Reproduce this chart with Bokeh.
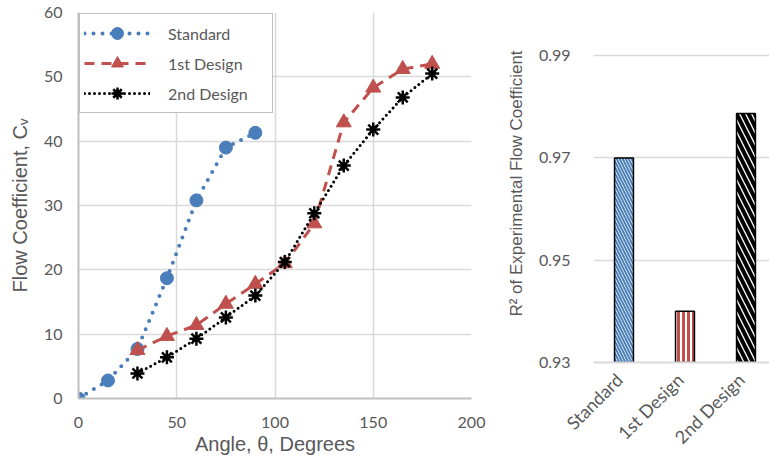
import math
from bokeh.plotting import figure
from bokeh.layouts import row
from bokeh.models import FixedTicker
from bokeh.embed import file_html
from bokeh.resources import INLINE

# ---------------- data ----------------
angle_std = [0, 15, 30, 45, 60, 75, 90]
cv_std = [0.0, 2.8, 7.7, 18.7, 30.8, 39.0, 41.3]

angle_design = [30, 45, 60, 75, 90, 105, 120, 135, 150, 165, 180]
cv_1st = [7.5, 9.7, 11.4, 14.7, 17.8, 21.0, 27.2, 42.9, 48.3, 51.2, 52.0]
cv_2nd = [3.9, 6.4, 9.3, 12.6, 16.0, 21.2, 28.8, 36.2, 41.8, 46.8, 50.5]

designs = ["Standard", "1st Design", "2nd Design"]
r2 = [0.970, 0.940, 0.9787]

x_ticks = [0, 50, 100, 150, 200]
y_ticks = [0, 10, 20, 30, 40, 50, 60]
r2_ticks = [0.93, 0.95, 0.97, 0.99]

# ---------------- styles ----------------
BLUE = "#4A7EBB"
RED = "#C0504D"
TXT = "#595959"
GRID = "#D9D9D9"
AXIS = "#BFBFBF"
TICK_FONT = "Lato"
TITLE_FONT = "Liberation Sans"

# ---------------- left chart ----------------
p = figure(width=490, height=458, x_range=(0, 200), y_range=(0, 60),
           output_backend="svg", toolbar_location=None,
           min_border_left=78, min_border_right=19,
           min_border_top=12, min_border_bottom=60)
p.frame_align = False
p.outline_line_color = None
p.background_fill_color = "white"

p.line(angle_std, cv_std, line_color=BLUE, line_width=4, line_dash="0 9",
       line_cap="round", legend_label="Standard")
p.scatter(angle_std, cv_std, marker="circle", size=13, fill_color=BLUE,
          line_color=BLUE, legend_label="Standard")

p.line(angle_design, cv_1st, line_color=RED, line_width=3, line_dash="10 7",
       legend_label="1st Design")
p.scatter(angle_design, cv_1st, marker="triangle", size=15, fill_color=RED,
          line_color=RED, legend_label="1st Design")

p.line(angle_design, cv_2nd, line_color="black", line_width=3, line_dash="0 5",
       line_cap="round", legend_label="2nd Design")
p.scatter(angle_design, cv_2nd, marker="asterisk", size=14, line_color="black",
          line_width=2.5, legend_label="2nd Design")

p.xaxis.ticker = FixedTicker(ticks=x_ticks)
p.yaxis.ticker = FixedTicker(ticks=y_ticks)
for ax in (p.xaxis[0], p.yaxis[0]):
    ax.axis_line_color = AXIS
    ax.axis_line_width = 2
    ax.major_tick_line_color = None
    ax.minor_tick_line_color = None
    ax.major_label_text_font = TICK_FONT
    ax.major_label_text_font_size = "16px"
    ax.major_label_text_color = TXT
    ax.axis_label_text_font = TITLE_FONT
    ax.axis_label_text_font_size = "20px"
    ax.axis_label_text_font_style = "normal"
    ax.axis_label_text_color = TXT

p.xaxis.axis_label = "Angle, θ, Degrees"
p.xaxis.major_label_standoff = 12
p.xaxis.axis_label_standoff = 2
p.yaxis.axis_label = "Flow Coefficient, Cᵥ"
p.yaxis.major_label_standoff = 10
p.yaxis.axis_label_standoff = 10

p.xgrid.grid_line_color = GRID
p.ygrid.grid_line_color = GRID
p.xgrid.grid_line_width = 1.5
p.ygrid.grid_line_width = 1.5

lg = p.legend[0]
lg.location = "top_left"
lg.margin = 1
lg.padding = 4
lg.spacing = 0
lg.glyph_width = 66
lg.glyph_height = 30
lg.label_height = 18
lg.label_standoff = 18
lg.label_width = 100
lg.label_text_font = TICK_FONT
lg.label_text_font_size = "16px"
lg.label_text_color = TXT
lg.border_line_color = "#808080"
lg.border_line_width = 1.5
lg.background_fill_color = "white"
lg.background_fill_alpha = 1.0

# ---------------- right chart ----------------
cat_pos = [i + 0.5 for i in range(len(designs))]
label_shift = 0.08  # rotated labels end under the bar centres
label_pos = [c - label_shift for c in cat_pos]
q = figure(width=279, height=458, x_range=(0, 176 / 61), y_range=(0.93, 1.0),
           output_backend="svg", toolbar_location=None,
           min_border_left=103, min_border_right=0,
           min_border_top=4, min_border_bottom=94)
q.frame_align = False
q.outline_line_color = None

hatch_colors = [BLUE, RED, "black"]
hatch_patterns = ["\\", "|", "\\"]
hatch_scales = [6, 5, 12]
hatch_weights = [2, 3, 4]
for i in range(len(designs)):
    q.vbar(x=[cat_pos[i]], top=[r2[i]], bottom=0.93, width=0.31,
           fill_color="white", line_color="black", line_width=1.5,
           hatch_pattern=hatch_patterns[i], hatch_color=hatch_colors[i],
           hatch_scale=hatch_scales[i], hatch_weight=hatch_weights[i])

q.xaxis.ticker = FixedTicker(ticks=label_pos)
q.xaxis.major_label_overrides = {label_pos[i]: designs[i] for i in range(len(designs))}
q.xaxis.major_label_orientation = math.pi / 4
q.yaxis.ticker = FixedTicker(ticks=r2_ticks)
q.yaxis.major_label_overrides = {t: f"{t:.2f}" for t in r2_ticks}
for ax in (q.xaxis[0], q.yaxis[0]):
    ax.major_tick_line_color = None
    ax.minor_tick_line_color = None
    ax.major_label_text_font = TICK_FONT
    ax.major_label_text_font_size = "16px"
    ax.major_label_text_color = TXT
    ax.axis_label_text_font = TITLE_FONT
    ax.axis_label_text_font_size = "17px"
    ax.axis_label_text_font_style = "normal"
    ax.axis_label_text_color = TXT
q.xaxis.major_label_text_font_size = "18px"
q.xaxis.axis_line_color = GRID
q.xaxis.axis_line_width = 2
q.xaxis.major_label_standoff = 8
q.yaxis.axis_line_color = None
q.yaxis.axis_label = "R² of Experimental Flow Coefficient"
q.yaxis.major_label_standoff = 17
q.yaxis.axis_label_standoff = 10
q.xgrid.grid_line_color = None
q.ygrid.grid_line_color = GRID
q.ygrid.grid_line_width = 1.5

layout = row(p, q)
open("out.html", "w").write(file_html(layout, INLINE))
